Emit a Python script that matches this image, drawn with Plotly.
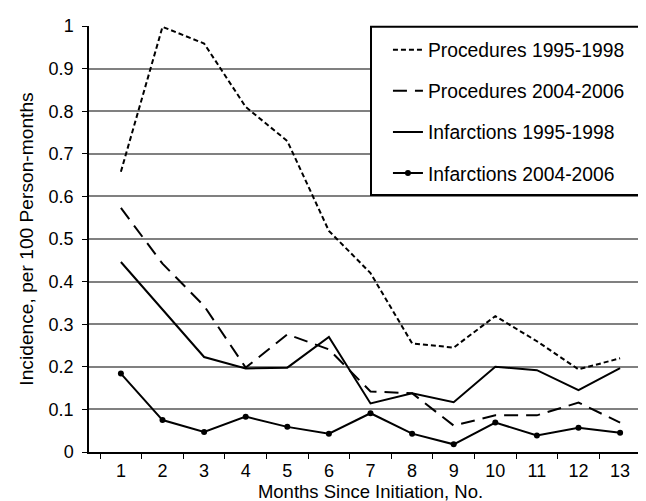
import plotly.graph_objects as go

months = [str(i) for i in range(1, 14)]
proc_95 = [0.658, 0.998, 0.959, 0.810, 0.730, 0.519, 0.420, 0.255, 0.245, 0.319, 0.260, 0.194, 0.220]
proc_04 = [0.573, 0.442, 0.343, 0.198, 0.276, 0.241, 0.142, 0.138, 0.062, 0.086, 0.086, 0.116, 0.069]
inf_95 = [0.446, 0.335, 0.223, 0.196, 0.198, 0.270, 0.114, 0.138, 0.117, 0.200, 0.192, 0.145, 0.197]
inf_04 = [0.184, 0.075, 0.047, 0.083, 0.059, 0.043, 0.091, 0.043, 0.018, 0.069, 0.039, 0.057, 0.045]
y_ticks = [0, 0.1, 0.2, 0.3, 0.4, 0.5, 0.6, 0.7, 0.8, 0.9, 1]
y_tick_text = ["0", "0.1", "0.2", "0.3", "0.4", "0.5", "0.6", "0.7", "0.8", "0.9", "1"]

FONT = "Liberation Sans, Arial, sans-serif"

fig = go.Figure()
fig.add_trace(go.Scatter(x=months, y=proc_95, mode="lines", name="Procedures 1995-1998",
                         line=dict(color="black", width=2, dash="5px,3px"), legendgroup="a"))
fig.add_trace(go.Scatter(x=months, y=proc_04, mode="lines", name="Procedures 2004-2006",
                         line=dict(color="black", width=2, dash="14px,8px"), legendgroup="b"))
fig.add_trace(go.Scatter(x=months, y=inf_95, mode="lines", name="Infarctions 1995-1998",
                         line=dict(color="black", width=2), legendgroup="c"))
fig.add_trace(go.Scatter(x=months, y=inf_04, mode="lines+markers", name="Infarctions 2004-2006",
                         line=dict(color="black", width=2),
                         marker=dict(color="black", size=6, symbol="circle"), legendgroup="d"))

# legend frame (decorative box around the legend)
fig.add_shape(type="rect", xref="paper", yref="paper",
              x0=0.5009, x1=0.9975, y0=0.603, y1=0.9984,
              line=dict(color="black", width=2), fillcolor="white", layer="above")

fig.update_layout(
    width=646, height=501,
    margin=dict(l=81, r=2, t=18, b=57, autoexpand=False),
    paper_bgcolor="white", plot_bgcolor="white",
    font=dict(family=FONT, size=18, color="black"),
    showlegend=True,
    legend=dict(
        x=0.531, y=0.989, xanchor="left", yanchor="top",
        bgcolor="rgba(0,0,0,0)", borderwidth=0,
        font=dict(family=FONT, size=19.3, color="black"),
        traceorder="grouped", tracegroupgap=13,
    ),
    xaxis=dict(
        type="category", tickson="boundaries", ticks="outside", ticklen=5,
        tickcolor="black", tickwidth=1, ticklabelstandoff=2,
        showline=True, linecolor="black", linewidth=1.5,
        showgrid=False, zeroline=False, automargin=False,
        tickfont=dict(size=18),
        title=dict(text="Months Since Initiation, No.", font=dict(size=18.5), standoff=0),
    ),
    yaxis=dict(
        range=[0, 1], tickvals=y_ticks, ticktext=y_tick_text,
        ticks="outside", ticklen=5, tickcolor="black", ticklabelstandoff=5,
        showline=True, linecolor="black", linewidth=1.5,
        showgrid=True, gridcolor="#808080", gridwidth=1.6,
        zeroline=False, automargin=False,
        tickfont=dict(size=18),
        title=dict(text="Incidence, per 100 Person-months", font=dict(size=19.2), standoff=10),
    ),
)

fig.write_html("out.html")
